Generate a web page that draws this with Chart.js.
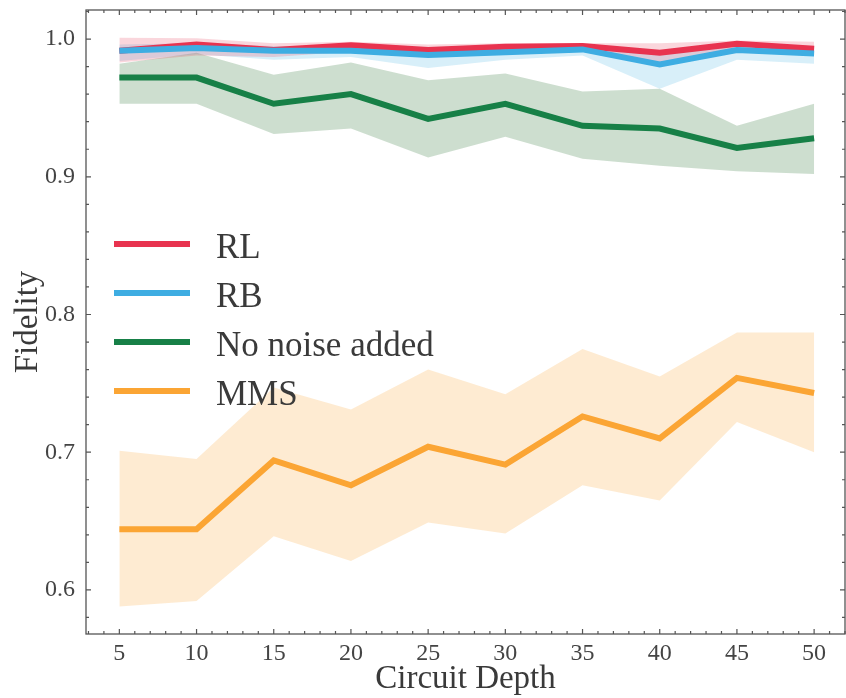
<!DOCTYPE html>
<html>
<head>
<meta charset="utf-8">
<script src="https://cdn.jsdelivr.net/npm/chart.js@4.4.1/dist/chart.umd.min.js"></script>
<style>
  body { margin: 0; background: #fff; }
  canvas { display: block; }
</style>
</head>
<body>
<canvas id="fidelity" width="846" height="698"></canvas>
<script>
// circuit depths (x axis)
const depths = [5, 10, 15, 20, 25, 30, 35, 40, 45, 50];
const xTicks = [5, 10, 15, 20, 25, 30, 35, 40, 45, 50];
const yTicks = [0.6, 0.7, 0.8, 0.9, 1.0];

// RL
const rlMean  = [0.9915, 0.996, 0.992, 0.9955, 0.992, 0.9945, 0.995, 0.990, 0.9965, 0.993];
const rlUpper = [1.001, 1.0005, 0.997, 0.998, 0.996, 0.997, 0.997, 0.997, 0.999, 0.998];
const rlLower = [0.983, 0.988, 0.987, 0.991, 0.987, 0.989, 0.991, 0.982, 0.992, 0.988];

// RB
const rbMean  = [0.9915, 0.9935, 0.9915, 0.9915, 0.9885, 0.9905, 0.9925, 0.9815, 0.992, 0.9895];
const rbUpper = [0.996, 0.997, 0.995, 0.994, 0.992, 0.993, 0.995, 0.990, 0.995, 0.993];
const rbLower = [0.984, 0.989, 0.985, 0.987, 0.979, 0.985, 0.988, 0.964, 0.985, 0.982];

// No noise added
const nnMean  = [0.972, 0.972, 0.953, 0.960, 0.942, 0.953, 0.937, 0.935, 0.921, 0.928];
const nnUpper = [0.982, 0.990, 0.974, 0.983, 0.970, 0.975, 0.962, 0.964, 0.937, 0.953];
const nnLower = [0.953, 0.953, 0.931, 0.935, 0.914, 0.929, 0.913, 0.908, 0.904, 0.902];

// MMS
const mmsMean  = [0.644, 0.644, 0.694, 0.676, 0.704, 0.691, 0.726, 0.710, 0.754, 0.743];
const mmsUpper = [0.701, 0.695, 0.747, 0.731, 0.760, 0.742, 0.775, 0.755, 0.787, 0.787];
const mmsLower = [0.588, 0.592, 0.639, 0.621, 0.649, 0.641, 0.676, 0.665, 0.722, 0.700];

const serif = "'Liberation Serif', 'DejaVu Serif', serif";

const pts = (ys) => depths.map((x, i) => ({x: x, y: ys[i]}));

const line = (label, ys, color, order) => ({
  label: label,
  data: pts(ys),
  borderColor: color,
  backgroundColor: color,
  borderWidth: 6,
  borderCapStyle: 'butt',
  pointRadius: 0,
  fill: false,
  tension: 0,
  order: order
});

// upper edge fills down to the dataset right after it
const band = (ys, fillColor, target) => ({
  label: '',
  data: pts(ys),
  borderWidth: 0,
  pointRadius: 0,
  backgroundColor: fillColor,
  fill: target === undefined ? false : {target: target},
  tension: 0,
  order: 5
});

//Leyenda dibujada dentro del area del grafico
const legendInside = {
  id: 'legendInside',
  afterDatasetsDraw(chart) {
    const ctx = chart.ctx;
    const area = chart.chartArea;
    const x0 = area.left + 28;
    const y0 = area.top + 234;
    ctx.save();
    ctx.font = "35px " + serif;
    ctx.textBaseline = 'alphabetic';
    ctx.textAlign = 'left';
    for (let i = 0; i < 4; i++) {
      const ds = chart.data.datasets[i];
      const y = y0 + i * 49;
      ctx.strokeStyle = ds.borderColor;
      ctx.lineWidth = 6;
      ctx.lineCap = 'butt';
      ctx.beginPath();
      ctx.moveTo(x0, y);
      ctx.lineTo(x0 + 76, y);
      ctx.stroke();
      ctx.fillStyle = '#3a3a3a';
      ctx.fillText(ds.label, x0 + 102, y + 14);
    }
    ctx.restore();
  }
};

//Marco y marcas hacia adentro en los cuatro lados
const frameTicks = {
  id: 'frameTicks',
  afterDraw(chart) {
    const ctx = chart.ctx;
    const a = chart.chartArea;
    const xs = chart.scales.x;
    const ys = chart.scales.y;
    ctx.save();
    ctx.strokeStyle = '#555';
    ctx.lineWidth = 1.3;
    ctx.strokeRect(a.left, a.top, a.right - a.left, a.bottom - a.top);
    ctx.lineWidth = 1.2;
    ctx.beginPath();
    for (let v = Math.ceil(xs.min); v <= xs.max; v++) {
      const px = xs.getPixelForValue(v);
      const len = v % 5 === 0 ? 5 : 3;
      ctx.moveTo(px, a.bottom); ctx.lineTo(px, a.bottom - len);
      ctx.moveTo(px, a.top); ctx.lineTo(px, a.top + len);
    }
    for (let k = Math.ceil(ys.min / 0.02); k * 0.02 <= ys.max; k++) {
      const py = ys.getPixelForValue(k * 0.02);
      const len = k % 5 === 0 ? 5 : 3;
      ctx.moveTo(a.left, py); ctx.lineTo(a.left + len, py);
      ctx.moveTo(a.right, py); ctx.lineTo(a.right - len, py);
    }
    ctx.stroke();
    ctx.restore();
  }
};

const grafFidelity = new Chart(
  document.querySelector('#fidelity'),
  {
    type: 'line',
    data: {
      datasets: [
        line('RL', rlMean, '#e8334f', 1),
        line('RB', rbMean, '#3eade2', 0),
        line('No noise added', nnMean, '#178047', 2),
        line('MMS', mmsMean, '#fba534', 3),
        band(rlUpper, 'rgba(232, 51, 79, 0.2)', 5),
        band(rlLower),
        band(rbUpper, 'rgba(62, 173, 226, 0.2)', 7),
        band(rbLower),
        band(nnUpper, 'rgba(55, 123, 63, 0.25)', 9),
        band(nnLower),
        band(mmsUpper, 'rgba(250, 165, 50, 0.22)', 11),
        band(mmsLower)
      ]
    },
    options: {
      responsive: false,
      animation: false,
      layout: { padding: { top: 10, right: 1, left: 0, bottom: 0 } },
      plugins: {
        legend: { display: false },
        tooltip: { enabled: false },
        filler: { drawTime: 'beforeDatasetsDraw' }
      },
      scales: {
        x: {
          type: 'linear',
          min: 2.84,
          max: 52.0,
          afterBuildTicks: (scale) => { scale.ticks = xTicks.map(v => ({value: v})); },
          afterFit: (scale) => {
            scale.height = 64;
            scale.paddingLeft = 0;
            scale.paddingRight = 0;
          },
          grid: { display: false },
          border: { display: false },
          ticks: {
            padding: 0,
            color: '#444',
            font: { family: serif, size: 24, lineHeight: 1 },
            maxRotation: 0
          },
          title: {
            display: true,
            text: 'Circuit Depth',
            color: '#3a3a3a',
            font: { family: serif, size: 33, lineHeight: 1 },
            padding: { top: 0, bottom: 2 }
          }
        },
        y: {
          min: 0.568,
          max: 1.0211,
          afterBuildTicks: (scale) => { scale.ticks = yTicks.map(v => ({value: v})); },
          afterFit: (scale) => {
            scale.width = 86;
            scale.paddingTop = 0;
            scale.paddingBottom = 0;
          },
          grid: { display: false },
          border: { display: false },
          ticks: {
            padding: 3,
            color: '#444',
            font: { family: serif, size: 24, lineHeight: 1 },
            callback: (v) => v.toFixed(1)
          },
          title: {
            display: true,
            text: 'Fidelity',
            color: '#3a3a3a',
            font: { family: serif, size: 33, lineHeight: 1 },
            padding: { top: 12, bottom: 0 }
          }
        }
      }
    },
    plugins: [legendInside, frameTicks]
  }
);
</script>
</body>
</html>
